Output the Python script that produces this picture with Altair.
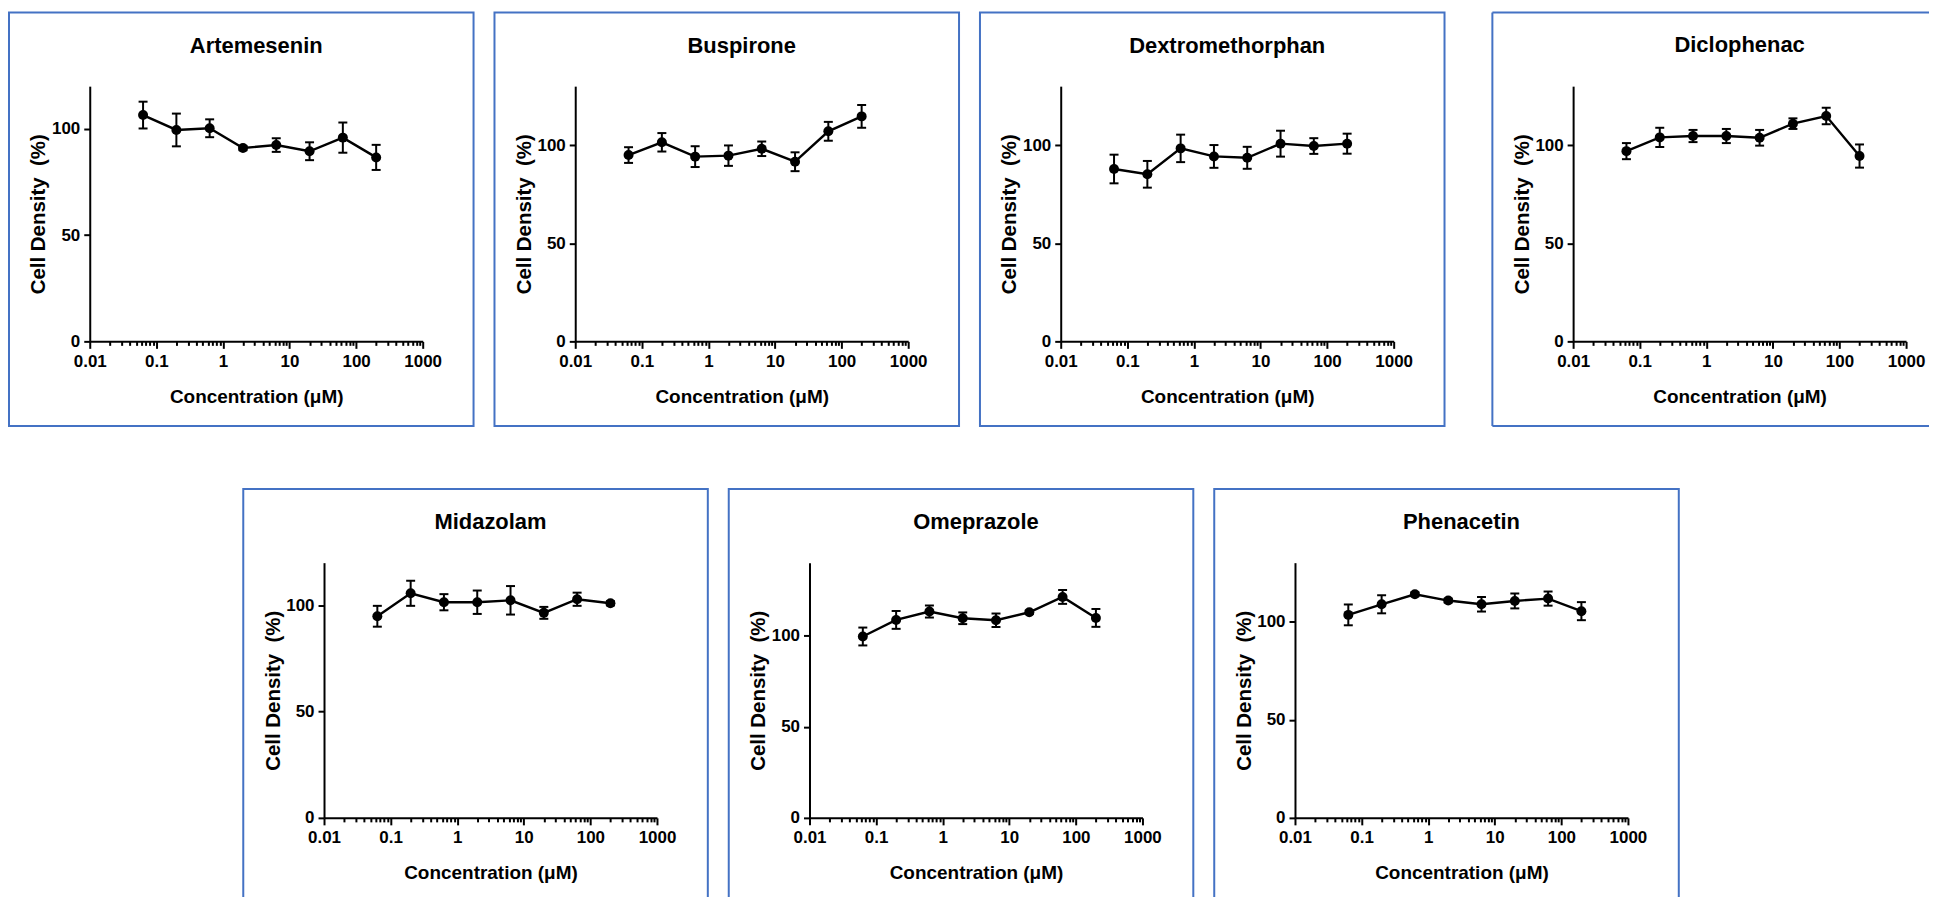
import altair as alt
import pandas as pd

# ---- data ----
conc = [0.0632, 0.2, 0.632, 2, 6.32, 20, 63.2, 200]

drugs = ["Artemesenin", "Buspirone", "Dextromethorphan", "Diclophenac",
         "Midazolam", "Omeprazole", "Phenacetin"]
y_max = [120, 130, 130, 130, 120, 140, 130]

art = [106.4, 99.4, 100.2, 90.9, 92.3, 89.4, 95.8, 86.5]
art_err = [6.3, 7.7, 4.2, 1.0, 3.2, 4.2, 7.1, 5.9]
bus = [94.9, 101.4, 94.1, 94.6, 98.1, 91.5, 107.0, 114.6]
bus_err = [4.0, 4.7, 5.3, 5.2, 3.7, 4.8, 4.8, 5.8]
dex = [87.8, 85.1, 98.3, 94.2, 93.5, 100.7, 99.5, 100.7]
dex_err = [7.3, 6.8, 7.0, 5.8, 5.6, 6.6, 4.0, 5.1]
dic = [96.9, 103.9, 104.6, 104.6, 103.7, 110.9, 114.8, 94.4]
dic_err = [4.1, 4.9, 3.1, 3.6, 4.0, 2.7, 4.2, 5.9]
mid = [94.8, 105.6, 101.4, 101.4, 102.3, 96.4, 102.8, 100.9]
mid_err = [4.9, 5.9, 3.8, 5.5, 6.7, 2.8, 3.1, 1.0]
ome = [99.5, 108.6, 113.2, 109.5, 108.4, 112.8, 121.2, 109.7]
ome_err = [4.9, 4.9, 3.3, 3.2, 3.7, 1.0, 3.8, 4.9]
phe = [103.4, 108.8, 113.9, 110.7, 108.8, 110.5, 111.7, 105.3]
phe_err = [5.3, 4.6, 1.0, 1.0, 3.7, 3.8, 3.6, 4.6]

means = [art, bus, dex, dic, mid, ome, phe]
errors = [art_err, bus_err, dex_err, dic_err, mid_err, ome_err, phe_err]

decades = [0.01, 0.1, 1, 10, 100, 1000]
x_ticks = decades + [d * k for d in decades[:-1] for k in range(2, 10)]
y_ticks = [0, 50, 100]

x_title = "Concentration (\u03bcM)"
y_title = "Cell Density\u00a0 (%)"

FONT = "Liberation Sans"
BLUE = "#4472C4"
BOX_W, BOX_H = 466, 415
LAST_W = 438
X_RANGE = [81, 415]
Y_RANGE = [330, 74]

is_decade = "abs(log(datum.value)/LN10 - round(log(datum.value)/LN10)) < 0.01"

x_axis = alt.Axis(
    values=x_ticks, orient="bottom", offset=-(BOX_H - Y_RANGE[0]),
    labelExpr=f"({is_decade}) ? format(datum.value, '~g') : ''",
    tickSize={"condition": {"test": is_decade, "value": 7}, "value": 4},
    labelFlush=False, labelOverlap=False, labelPadding=5,
    title=x_title, titleX=(X_RANGE[0] + X_RANGE[1]) / 2, titleY=61,
    titleBaseline="alphabetic", titleFontSize=19, grid=False,
)
y_axis = alt.Axis(
    values=y_ticks, orient="left", offset=-X_RANGE[0], tickSize=6,
    labelPadding=4, title=y_title, titleX=-45,
    titleY=(Y_RANGE[0] + Y_RANGE[1]) / 2, titleBaseline="alphabetic",
    titleFontSize=20.5, grid=False,
)


def panel(name, m, e, ymax, width=BOX_W, open_right=False):
    df = pd.DataFrame({
        "conc": conc,
        "mean": m,
        "lo": [a - b for a, b in zip(m, e)],
        "hi": [a + b for a, b in zip(m, e)],
    })
    xs = alt.Scale(type="log", domain=[0.01, 1000], range=X_RANGE)
    ys = alt.Scale(domain=[0, ymax], range=Y_RANGE, nice=False, zero=False)

    def X():
        return alt.X("conc:Q", scale=xs, axis=x_axis)

    def Y(f):
        return alt.Y(f"{f}:Q", scale=ys, axis=y_axis)

    base = alt.Chart(df)
    line = base.mark_line(color="black", strokeWidth=2.4).encode(x=X(), y=Y("mean"))
    rule = base.mark_rule(color="black", strokeWidth=2).encode(
        x=X(), y=Y("lo"), y2="hi:Q")
    cap_hi = base.mark_tick(orient="horizontal", size=9, thickness=2,
                            color="black", opacity=1).encode(x=X(), y=Y("hi"))
    cap_lo = base.mark_tick(orient="horizontal", size=9, thickness=2,
                            color="black", opacity=1).encode(x=X(), y=Y("lo"))
    pts = base.mark_point(filled=True, size=100, color="black", opacity=1).encode(
        x=X(), y=Y("mean"))
    layers = [line, rule, cap_hi, cap_lo, pts]
    props = dict(
        width=width, height=BOX_H,
        title=alt.TitleParams(
            text=name, font=FONT, fontSize=22, fontWeight="bold", color="black",
            anchor="middle", frame="group", orient="top", offset=-62.5,
            baseline="alphabetic", dx=(X_RANGE[0] + X_RANGE[1]) / 2 - width / 2,
        ),
    )
    if open_right:
        # frame continues past the page edge: draw only left, top, bottom sides
        one = alt.Chart(pd.DataFrame({"k": [0]}))
        left = one.mark_rule(color=BLUE, strokeWidth=2).encode(
            x=alt.value(0), y=alt.value(0), y2=alt.value(BOX_H))
        top = one.mark_rule(color=BLUE, strokeWidth=2).encode(
            x=alt.value(0), x2=alt.value(width), y=alt.value(0))
        bottom = one.mark_rule(color=BLUE, strokeWidth=2).encode(
            x=alt.value(0), x2=alt.value(width), y=alt.value(BOX_H))
        layers += [left, top, bottom]
        props["view"] = alt.ViewBackground(stroke="transparent")
    return alt.layer(*layers).properties(**props)


panels = []
for i, (n, m, e, ym) in enumerate(zip(drugs, means, errors, y_max)):
    if i == 3:
        panels.append(panel(n, m, e, ym, width=LAST_W, open_right=True))
    else:
        panels.append(panel(n, m, e, ym))

spacer = alt.Chart(pd.DataFrame({"s": [0]})).mark_point(opacity=0).encode(
    x=alt.X("s:Q", axis=None), y=alt.Y("s:Q", axis=None)
).properties(width=214, height=BOX_H, view=alt.ViewBackground(stroke="transparent"))

row1 = alt.hconcat(alt.hconcat(panels[0], panels[1], panels[2], spacing=19),
                   panels[3], spacing=45)
row2 = alt.hconcat(spacer, panels[4], panels[5], panels[6], spacing=19)

chart = alt.vconcat(row1, row2, spacing=60).properties(
    padding={"left": 0, "top": 1, "right": 0, "bottom": 0},
    background="white",
).configure_view(
    stroke=BLUE, strokeWidth=2
).configure_axis(
    domainColor="black", domainWidth=2, tickColor="black", tickWidth=2,
    labelFont=FONT, labelFontSize=17, labelFontWeight="bold", labelColor="black",
    titleFont=FONT, titleFontWeight="bold", titleColor="black",
)

chart.save("out.html", embed_options={"renderer": "svg", "actions": False})
